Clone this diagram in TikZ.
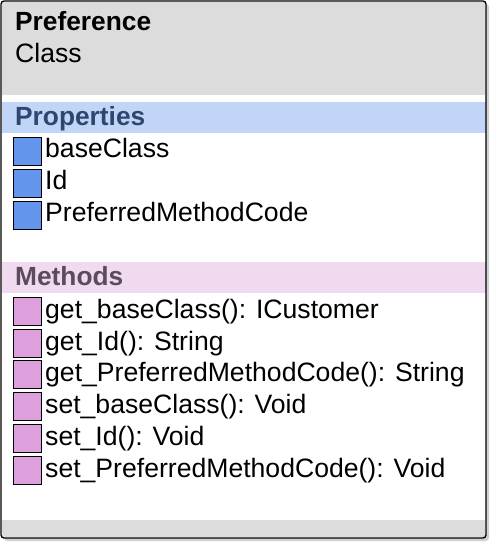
\documentclass[tikz,border=0pt]{standalone}
\usepackage{fontspec}
\setmainfont{Liberation Sans}
\definecolor{hdrgray}{HTML}{DCDCDC}
\definecolor{propband}{HTML}{C1D5F7}
\definecolor{proptext}{HTML}{2E4670}
\definecolor{propsq}{HTML}{6495ED}
\definecolor{methband}{HTML}{F0DAF0}
\definecolor{methtext}{HTML}{5E4A5E}
\definecolor{methsq}{HTML}{DDA0DD}
\begin{document}
\begin{tikzpicture}[x=1pt,y=-1pt,
  txt/.style={anchor=base west,inner sep=0pt,font=\fontsize{26.6}{30}\selectfont},
  btxt/.style={txt,font=\fontsize{26.3}{30}\selectfont\bfseries},
  propbox/.style={draw=black,line width=1pt,fill=propsq,minimum width=28pt,minimum height=28pt,inner sep=0pt,anchor=north west},
  methbox/.style={draw=black,line width=1pt,fill=methsq,minimum width=28pt,minimum height=28pt,inner sep=0pt,anchor=north west}]
\useasboundingbox (0,0) rectangle (492,544);
% shadow
\fill[black!18,rounded corners=3pt] (4,4) rectangle (489,541);
% body
\fill[white,rounded corners=3pt] (1,1) rectangle (486,538);
\fill[hdrgray] (2,2) rectangle (485,95);
\fill[propband] (1.5,102) rectangle (485.5,133);
\fill[methband] (1.5,262) rectangle (485.5,293);
\fill[hdrgray] (2,520) rectangle (485,537);
\draw[black,line width=1.3pt,rounded corners=3pt] (1,1) rectangle (486,538);
% header
\node[btxt] (title) at (15,30) {Preference};
\node[txt] (stereo) at (15,62) {Class};
\node[btxt,text=proptext] (props) at (15,125) {Properties};
\node[btxt,text=methtext] (meths) at (15,285) {Methods};
% properties
\node[propbox] (p1) at (12.5,136.5) {};
\node[propbox] (p2) at (12.5,168.5) {};
\node[propbox] (p3) at (12.5,200.5) {};
\node[txt] (t1) at (45,157.5) {baseClass};
\node[txt] (t2) at (45,189.5) {Id};
\node[txt] (t3) at (45,221.5) {PreferredMethodCode};
% methods
\node[methbox] (m1) at (12.5,297) {};
\node[methbox] (m2) at (12.5,328.7) {};
\node[methbox] (m3) at (12.5,360.4) {};
\node[methbox] (m4) at (12.5,392.1) {};
\node[methbox] (m5) at (12.5,423.8) {};
\node[methbox] (m6) at (12.5,455.5) {};
\node[txt] (u1) at (45,318.5) {get\_baseClass(): ICustomer};
\node[txt] (u2) at (45,350.2) {get\_Id(): String};
\node[txt] (u3) at (45,381.9) {get\_PreferredMethodCode(): String};
\node[txt] (u4) at (45,413.6) {set\_baseClass(): Void};
\node[txt] (u5) at (45,445.3) {set\_Id(): Void};
\node[txt] (u6) at (45,477) {set\_PreferredMethodCode(): Void};
\end{tikzpicture}
\end{document}
